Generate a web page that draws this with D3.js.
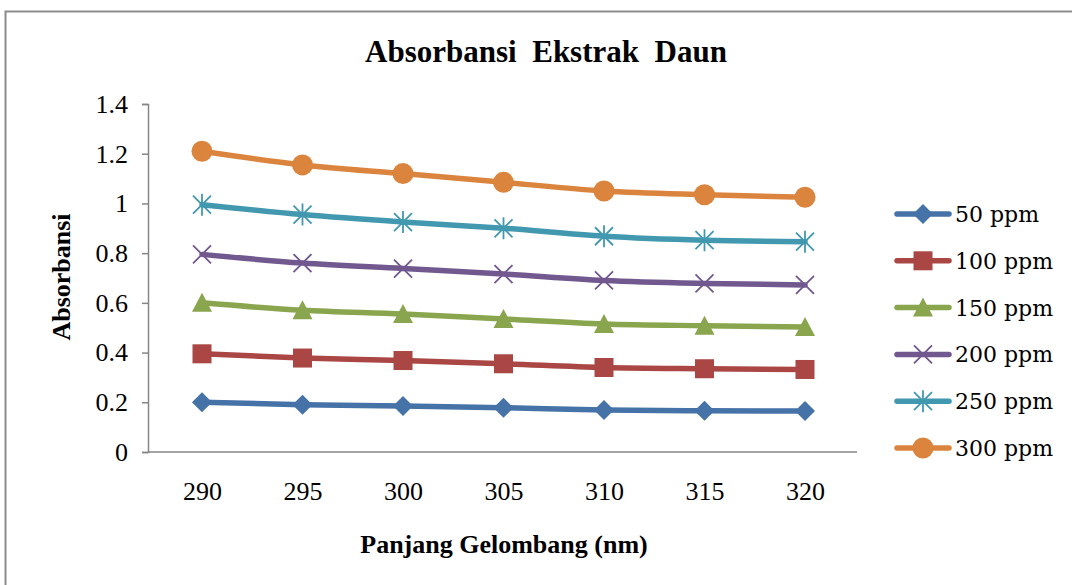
<!DOCTYPE html>
<html>
<head>
<meta charset="utf-8">
<script src="https://cdn.jsdelivr.net/npm/d3@7"></script>
<style>
  html, body { margin: 0; padding: 0; background: #fff; }
  svg { display: block; }
</style>
</head>
<body>
<svg id="chart" width="1072" height="585"></svg>
<script>
// Wavelengths (nm) on the category axis
const wavelengths = [290, 295, 300, 305, 310, 315, 320];

// Absorbance per concentration
const s50  = [0.200, 0.190, 0.185, 0.178, 0.169, 0.166, 0.165];
const s100 = [0.395, 0.378, 0.368, 0.355, 0.340, 0.335, 0.332];
const s150 = [0.600, 0.570, 0.555, 0.535, 0.515, 0.508, 0.503];
const s200 = [0.795, 0.760, 0.738, 0.716, 0.690, 0.678, 0.672];
const s250 = [0.995, 0.955, 0.925, 0.900, 0.868, 0.852, 0.846];
const s300 = [1.210, 1.155, 1.120, 1.085, 1.050, 1.035, 1.025];

const seriesNames = ["50 ppm", "100 ppm", "150 ppm", "200 ppm", "250 ppm", "300 ppm"];
const seriesValues = [s50, s100, s150, s200, s250, s300];
const seriesColors = ["#4572A7", "#AA4643", "#89A54E", "#71588F", "#4198AF", "#DB843D"];
const seriesMarkers = ["diamond", "square", "triangle", "x", "star", "circle"];

const yTicks = [0, 0.2, 0.4, 0.6, 0.8, 1, 1.2, 1.4];

const svg = d3.select("#chart");
const serif = "'Liberation Serif', 'Times New Roman', serif";

// Outer chart frame
svg.append("rect")
  .attr("x", 5.5).attr("y", 11.5)
  .attr("width", 1100).attr("height", 600)
  .attr("fill", "#fff")
  .attr("stroke", "#8c8c8c").attr("stroke-width", 2);

const plot = { left: 148, right: 857, top: 104, bottom: 452 };

// Category centres: one step per wavelength, half a step of margin at each end
const x = d3.scalePoint()
  .domain(wavelengths)
  .range([151.75, 855.25])
  .padding(0.5);

const y = d3.scaleLinear()
  .domain([0, 1.4])
  .range([plot.bottom, plot.top]);

// Y axis
const yAxis = d3.axisLeft(y)
  .tickValues(yTicks)
  .tickSize(6)
  .tickPadding(14)
  .tickFormat(d => String(+d.toFixed(1)));

const gy = svg.append("g")
  .attr("transform", `translate(${plot.left},0)`)
  .call(yAxis);
gy.select(".domain").attr("stroke", "#868686").attr("stroke-width", 1.5);
gy.selectAll(".tick line").attr("stroke", "#868686").attr("stroke-width", 1.5);
gy.selectAll(".tick text")
  .attr("font-family", serif)
  .attr("font-size", 26)
  .attr("fill", "#000");

// X axis (no tick marks); the baseline spans the full plot width
const xAxis = d3.axisBottom(x)
  .tickSize(0)
  .tickPadding(30)
  .tickSizeOuter(0);

const gx = svg.append("g")
  .attr("transform", `translate(0,${plot.bottom})`)
  .call(xAxis);
gx.select(".domain").remove();
gx.selectAll(".tick text")
  .attr("font-family", serif)
  .attr("font-size", 26)
  .attr("fill", "#000");

svg.append("line")
  .attr("x1", plot.left).attr("x2", plot.right)
  .attr("y1", plot.bottom).attr("y2", plot.bottom)
  .attr("stroke", "#868686").attr("stroke-width", 1.5);

// Titles
svg.append("text")
  .attr("x", 546).attr("y", 62)
  .attr("text-anchor", "middle")
  .attr("font-family", serif)
  .attr("font-weight", "bold")
  .attr("font-size", 31)
  .attr("xml:space", "preserve")
  .style("white-space", "pre")
  .text("Absorbansi  Ekstrak  Daun");

svg.append("text")
  .attr("x", 504).attr("y", 553)
  .attr("text-anchor", "middle")
  .attr("font-family", serif)
  .attr("font-weight", "bold")
  .attr("font-size", 26)
  .text("Panjang Gelombang (nm)");

svg.append("text")
  .attr("transform", "translate(70,277) rotate(-90)")
  .attr("text-anchor", "middle")
  .attr("font-family", serif)
  .attr("font-weight", "bold")
  .attr("font-size", 26)
  .text("Absorbansi");

// Marker drawing
function drawMarker(g, type, color) {
  if (type === "diamond") {
    g.append("path").attr("d", "M0,-10L10,0L0,10L-10,0Z").attr("fill", color);
  } else if (type === "square") {
    g.append("rect").attr("x", -9.5).attr("y", -9.5).attr("width", 19).attr("height", 19).attr("fill", color);
  } else if (type === "triangle") {
    g.append("path").attr("d", "M0,-10L10,9L-10,9Z").attr("fill", color);
  } else if (type === "circle") {
    g.append("circle").attr("r", 10.5).attr("fill", color);
  } else if (type === "x") {
    g.append("path").attr("d", "M-9,-9L9,9M-9,9L9,-9")
      .attr("stroke", color).attr("stroke-width", 1.8).attr("fill", "none");
  } else if (type === "star") {
    g.append("path").attr("d", "M-9,-9L9,9M-9,9L9,-9M0,-11L0,11")
      .attr("stroke", color).attr("stroke-width", 1.8).attr("fill", "none");
  }
}

const line = d3.line()
  .x((d, i) => x(wavelengths[i]))
  .y(d => y(d))
  .curve(d3.curveMonotoneX);

seriesValues.forEach((vals, si) => {
  const color = seriesColors[si];
  svg.append("path")
    .datum(vals)
    .attr("d", line)
    .attr("fill", "none")
    .attr("stroke", color)
    .attr("stroke-width", 5.5)
    .attr("stroke-linejoin", "round")
    .attr("stroke-linecap", "round");
  vals.forEach((v, i) => {
    const g = svg.append("g").attr("transform", `translate(${x(wavelengths[i])},${y(v)})`);
    drawMarker(g, seriesMarkers[si], color);
  });
});

// Legend
const legend = svg.append("g");
seriesNames.forEach((name, si) => {
  const cy = 214 + si * 46.8;
  const color = seriesColors[si];
  legend.append("line")
    .attr("x1", 897).attr("x2", 949)
    .attr("y1", cy).attr("y2", cy)
    .attr("stroke", color).attr("stroke-width", 5.5)
    .attr("stroke-linecap", "round");
  const g = legend.append("g").attr("transform", `translate(923,${cy})`);
  drawMarker(g, seriesMarkers[si], color);
  legend.append("text")
    .attr("x", 955).attr("y", cy + 8)
    .attr("font-family", "'DejaVu Serif', serif")
    .attr("font-size", 22)
    .attr("fill", "#000")
    .text(name);
});
</script>
</body>
</html>
